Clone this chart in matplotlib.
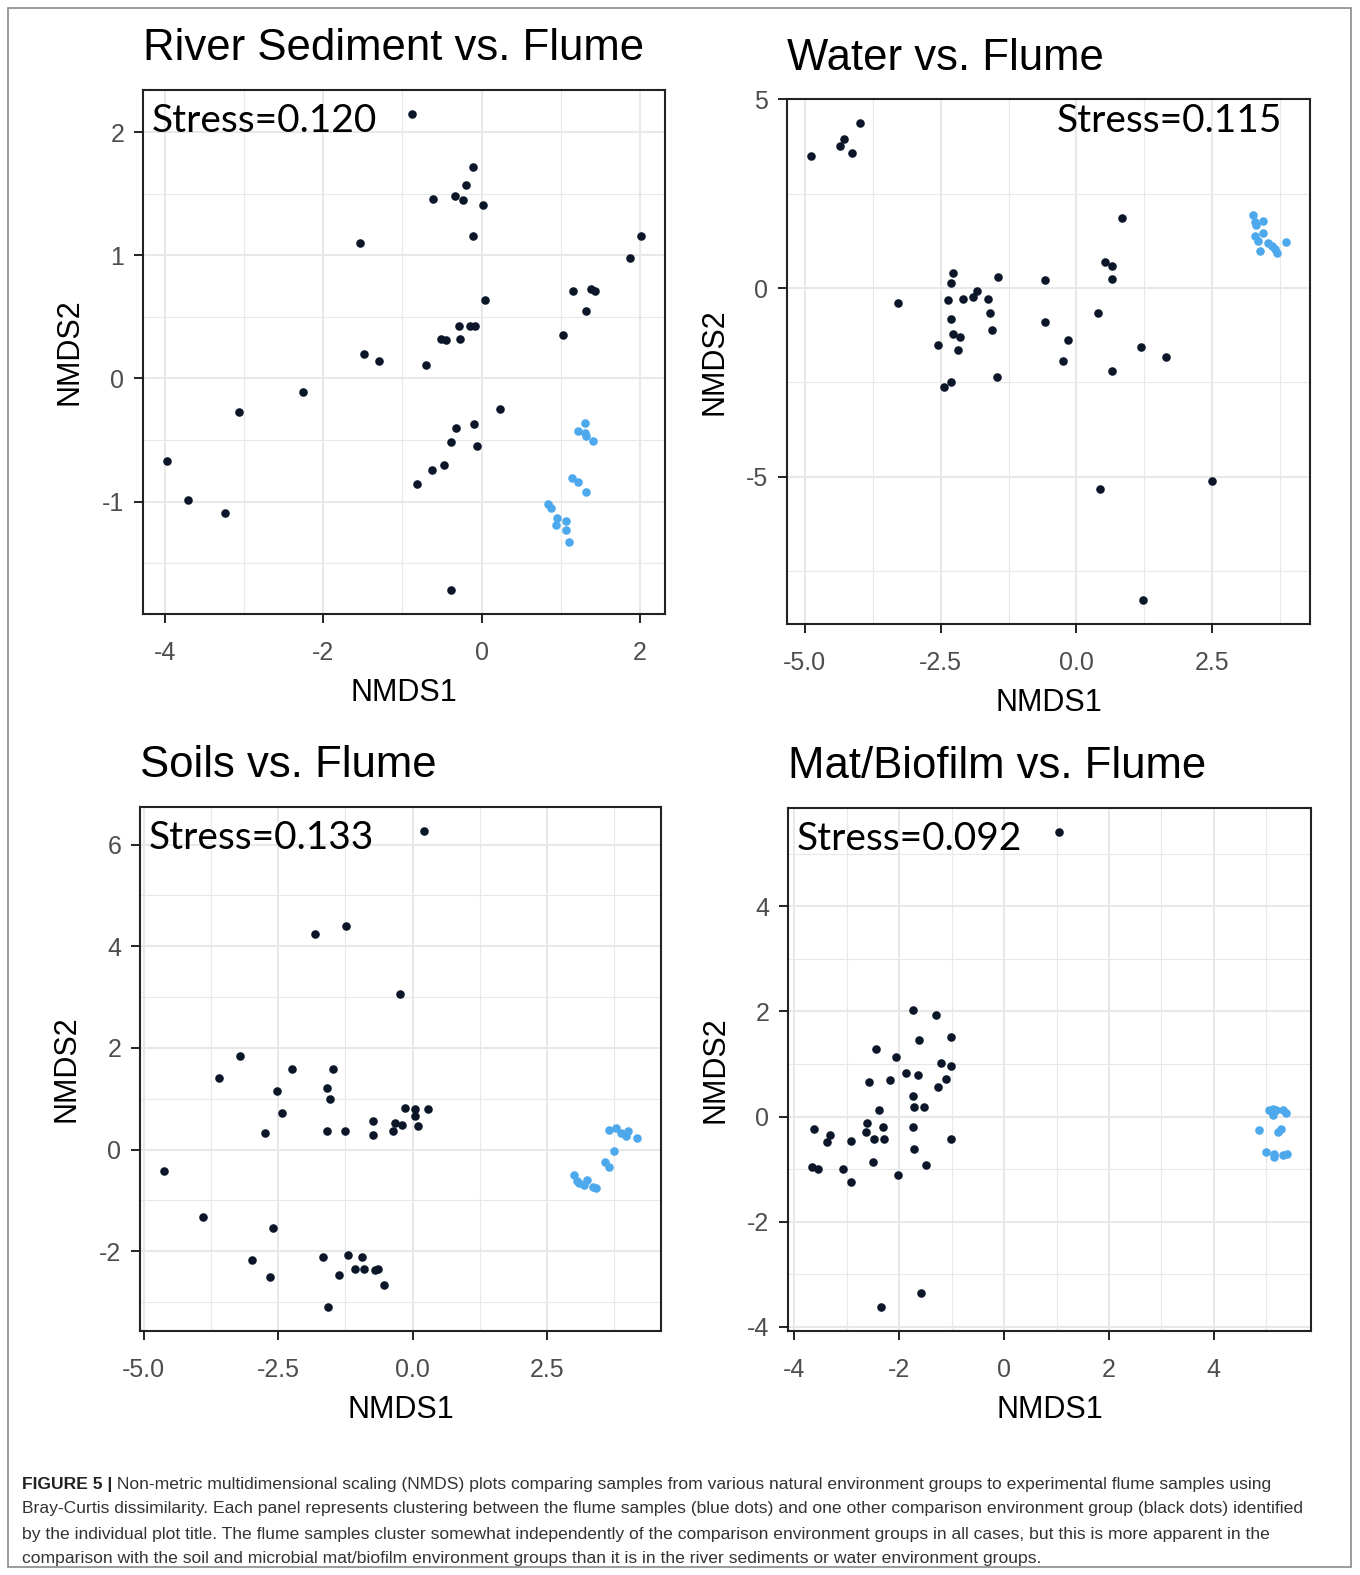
import matplotlib
matplotlib.use('Agg')
import matplotlib.pyplot as plt
from matplotlib.patches import Rectangle
from matplotlib.ticker import FixedLocator, FixedFormatter

plt.rcParams['axes.unicode_minus'] = False
plt.rcParams['font.family'] = ['Liberation Sans', 'DejaVu Sans']

# ---------------- data ----------------
river_env_x = [-0.88, -0.11, -0.20, -0.61, -0.34, -0.23, 0.02, -0.11, -1.54, 2.02, 1.88, 1.16, 1.39, 1.44,
               1.32, 1.03, 0.04, -0.29, -0.14, -0.08, -0.51, -0.45, -0.27, -1.48, -1.29, -0.70, -2.26, -3.06,
               0.23, -0.09, -0.32, -0.38, -0.06, -0.47, -0.63, -0.82, -3.98, -3.71, -3.24, -0.38]
river_env_y = [2.15, 1.72, 1.57, 1.46, 1.48, 1.45, 1.41, 1.16, 1.10, 1.16, 0.98, 0.71, 0.73, 0.71,
               0.55, 0.35, 0.64, 0.43, 0.43, 0.43, 0.32, 0.31, 0.32, 0.20, 0.14, 0.11, -0.11, -0.27,
               -0.25, -0.37, -0.40, -0.52, -0.55, -0.70, -0.74, -0.86, -0.67, -0.99, -1.09, -1.72]
river_flume_x = [1.31, 1.22, 1.31, 1.32, 1.41, 1.15, 1.22, 1.32, 0.84, 0.88, 0.95, 0.94, 1.07, 1.07, 1.10]
river_flume_y = [-0.36, -0.43, -0.44, -0.47, -0.51, -0.81, -0.84, -0.92, -1.02, -1.05, -1.13, -1.19, -1.16,
                 -1.23, -1.33]

water_env_x = [-4.89, -4.36, -4.27, -4.14, -3.99, 0.83, 0.53, 0.65, 0.65, -2.28, -2.31, -1.44, -0.58, -3.29,
               -2.37, -2.09, -1.90, -1.84, -1.63, -2.31, -1.59, -1.56, -2.28, -2.15, -2.55, -2.18, -0.58,
               0.39, -0.16, -0.24, 1.18, 1.64, 0.65, -1.47, -2.31, -2.43, 0.44, 2.50, 1.23]
water_env_y = [3.49, 3.76, 3.94, 3.58, 4.37, 1.84, 0.70, 0.57, 0.25, 0.39, 0.12, 0.30, 0.21, -0.41,
               -0.32, -0.28, -0.23, -0.07, -0.28, -0.81, -0.67, -1.12, -1.21, -1.30, -1.52, -1.65, -0.90,
               -0.67, -1.38, -1.92, -1.56, -1.83, -2.19, -2.36, -2.49, -2.63, -5.32, -5.11, -8.26]
water_flume_x = [3.25, 3.28, 3.44, 3.30, 3.44, 3.28, 3.34, 3.53, 3.59, 3.86, 3.66, 3.69, 3.38]
water_flume_y = [1.93, 1.75, 1.77, 1.66, 1.46, 1.38, 1.24, 1.20, 1.11, 1.23, 1.02, 0.93, 0.97]

soil_env_x = [0.22, -1.23, -1.81, -0.24, -3.21, -3.61, -2.25, -1.48, -1.60, -1.54, -2.53, -2.43, -2.75, -1.60,
              -1.26, -0.73, -0.73, -0.36, -0.33, -0.20, -0.15, 0.04, 0.04, 0.10, 0.29, -4.63, -3.89, -2.59,
              -2.99, -2.65, -1.67, -1.20, -0.94, -1.07, -0.91, -0.70, -0.64, -1.36, -0.54, -1.57]
soil_env_y = [6.27, 4.40, 4.24, 3.06, 1.84, 1.41, 1.58, 1.58, 1.21, 0.99, 1.15, 0.72, 0.32, 0.36,
              0.36, 0.56, 0.29, 0.36, 0.52, 0.49, 0.82, 0.79, 0.66, 0.46, 0.79, -0.43, -1.33, -1.55,
              -2.18, -2.51, -2.11, -2.08, -2.11, -2.34, -2.34, -2.37, -2.34, -2.47, -2.67, -3.10]
soil_flume_x = [3.66, 3.78, 3.88, 3.97, 4.00, 4.18, 3.75, 3.57, 3.66, 3.00, 3.09, 3.25, 3.19, 3.35, 3.41, 3.06]
soil_flume_y = [0.39, 0.42, 0.32, 0.26, 0.36, 0.23, -0.03, -0.24, -0.34, -0.50, -0.66, -0.60, -0.70, -0.73,
                -0.76, -0.62]

mat_env_x = [1.05, -1.74, -1.30, -1.62, -1.01, -2.45, -2.06, -1.21, -1.01, -1.88, -1.65, -2.17, -2.58, -1.11,
             -1.27, -1.74, -1.72, -1.53, -2.38, -2.61, -2.32, -2.64, -2.48, -2.29, -1.74, -1.72, -1.01, -3.62,
             -3.33, -3.37, -2.92, -3.67, -3.56, -3.08, -2.51, -2.93, -2.03, -1.49, -1.59, -2.35]
mat_env_y = [5.42, 2.03, 1.93, 1.45, 1.51, 1.29, 1.13, 1.01, 0.97, 0.82, 0.79, 0.69, 0.66, 0.72,
             0.56, 0.40, 0.19, 0.19, 0.12, -0.13, -0.20, -0.29, -0.42, -0.42, -0.20, -0.61, -0.42, -0.23,
             -0.36, -0.49, -0.46, -0.96, -0.99, -0.99, -0.87, -1.25, -1.12, -0.93, -3.35, -3.63]
mat_flume_x = [5.05, 5.13, 5.18, 5.31, 5.37, 5.12, 5.09, 4.87, 5.23, 5.28, 4.99, 5.15, 5.15, 5.31, 5.40]
mat_flume_y = [0.12, 0.15, 0.12, 0.12, 0.06, 0.03, 0.11, -0.26, -0.29, -0.23, -0.67, -0.71, -0.77, -0.74, -0.71]

titles = ["River Sediment vs. Flume", "Water vs. Flume", "Soils vs. Flume", "Mat/Biofilm vs. Flume"]
stress_labels = ["Stress=0.120", "Stress=0.115", "Stress=0.133", "Stress=0.092"]

river_xticks = [-4, -2, 0, 2]
river_yticks = [-1, 0, 1, 2]
water_xticks = [-5.0, -2.5, 0.0, 2.5]
water_yticks = [-5, 0, 5]
soil_xticks = [-5.0, -2.5, 0.0, 2.5]
soil_yticks = [-2, 0, 2, 4, 6]
mat_xticks = [-4, -2, 0, 2, 4]
mat_yticks = [-4, -2, 0, 2, 4]

caption_bold = "FIGURE 5 |"
caption_lines = [
    " Non-metric multidimensional scaling (NMDS) plots comparing samples from various natural environment groups to experimental flume samples using",
    "Bray-Curtis dissimilarity. Each panel represents clustering between the flume samples (blue dots) and one other comparison environment group (black dots) identified",
    "by the individual plot title. The flume samples cluster somewhat independently of the comparison environment groups in all cases, but this is more apparent in the",
    "comparison with the soil and microbial mat/biofilm environment groups than it is in the river sediments or water environment groups.",
]

# ---------------- layout ----------------
W, H = 1360, 1575
DPI = 100
fig = plt.figure(figsize=(W / DPI, H / DPI), dpi=DPI)
fig.patch.set_facecolor('white')

ENV_COLOR = '#0B1629'
FLUME_COLOR = '#4EA9EC'
GRID = '#E8E8E8'
TICKLAB = '#4D4D4D'


def fmt_ticks(ticks, decimals):
    if decimals:
        return ['%.1f' % t for t in ticks]
    return ['%d' % t for t in ticks]


def minor_between(ticks):
    step = ticks[1] - ticks[0]
    out = [t + step / 2 for t in ticks]
    out.insert(0, ticks[0] - step / 2)
    return out


def lims(a, b):
    lo, hi = min(min(a), min(b)), max(max(a), max(b))
    r = hi - lo
    return lo - 0.05 * r, hi + 0.05 * r


panels = [
    dict(box=(143, 90, 665, 614), ex=river_env_x, ey=river_env_y, fx=river_flume_x, fy=river_flume_y,
         xt=river_xticks, yt=river_yticks, xdec=False, ydec=False, stress_right=False),
    dict(box=(787, 99, 1310, 624), ex=water_env_x, ey=water_env_y, fx=water_flume_x, fy=water_flume_y,
         xt=water_xticks, yt=water_yticks, xdec=True, ydec=False, stress_right=True),
    dict(box=(140, 807, 661, 1331), ex=soil_env_x, ey=soil_env_y, fx=soil_flume_x, fy=soil_flume_y,
         xt=soil_xticks, yt=soil_yticks, xdec=True, ydec=False, stress_right=False),
    dict(box=(788, 808, 1311, 1331), ex=mat_env_x, ey=mat_env_y, fx=mat_flume_x, fy=mat_flume_y,
         xt=mat_xticks, yt=mat_yticks, xdec=False, ydec=False, stress_right=False),
]

for i, p in enumerate(panels):
    l, t, r, b = p['box']
    ax = fig.add_axes([l / W, 1 - b / H, (r - l) / W, (b - t) / H])
    ax.set_facecolor('white')
    ax.set_xlim(*lims(p['ex'], p['fx']))
    ax.set_ylim(*lims(p['ey'], p['fy']))
    ax.xaxis.set_major_locator(FixedLocator(p['xt']))
    ax.xaxis.set_major_formatter(FixedFormatter(fmt_ticks(p['xt'], p['xdec'])))
    ax.yaxis.set_major_locator(FixedLocator(p['yt']))
    ax.yaxis.set_major_formatter(FixedFormatter(fmt_ticks(p['yt'], p['ydec'])))
    ax.xaxis.set_minor_locator(FixedLocator(minor_between(p['xt'])))
    ax.yaxis.set_minor_locator(FixedLocator(minor_between(p['yt'])))
    ax.grid(which='major', color=GRID, lw=1.5, zorder=0)
    ax.grid(which='minor', color=GRID, lw=0.8, zorder=0)
    ax.set_axisbelow(True)
    ax.tick_params(which='major', direction='out', length=6.5, width=1.4, color='#222222',
                   labelsize=18, labelcolor=TICKLAB)
    ax.tick_params(axis='x', which='major', pad=13)
    ax.tick_params(axis='y', which='major', pad=7)
    ax.tick_params(which='minor', length=0)
    for s in ax.spines.values():
        s.set_color('#222222')
        s.set_linewidth(1.5)

    ax.scatter(p['ex'], p['ey'], s=38, color=ENV_COLOR, linewidths=0, zorder=3)
    ax.scatter(p['fx'], p['fy'], s=38, color=FLUME_COLOR, linewidths=0, zorder=3)

    ax.set_xlabel('NMDS1', fontsize=22, color='black')
    ax.set_ylabel('NMDS2', fontsize=22, color='black')
    ax.xaxis.set_label_coords(0.5, -79 / (b - t))
    ax.yaxis.set_label_coords(-73 / (r - l), 0.5)
    ax.xaxis.label.set_va('center')
    ax.yaxis.label.set_va('center')

    # panel title
    fig.text(l / W, 1 - (t - 41) / H, titles[i], fontsize=31.5, ha='left', va='center', color='black')

    # stress annotation
    if p['stress_right']:
        ax.text(1 - 28 / (r - l), 1 - 22 / (b - t), stress_labels[i], transform=ax.transAxes,
                ha='right', va='center', fontsize=28, family=['Lato', 'DejaVu Sans'], color='black')
    else:
        ax.text(9 / (r - l), 1 - 31 / (b - t), stress_labels[i], transform=ax.transAxes,
                ha='left', va='center', fontsize=28, family=['Lato', 'DejaVu Sans'], color='black')

# outer frame
fig.add_artist(Rectangle((8 / W, 1 - 1567 / H), (1351 - 8) / W, (1567 - 8) / H, transform=fig.transFigure,
                         fill=False, edgecolor='#8A8A8A', lw=1.2))

# caption: fit line widths to the reference text block width
renderer = fig.canvas.get_renderer()
target_w = 1303 - 22
probe = fig.text(0, 0, caption_lines[1], fontsize=12)
w0 = probe.get_window_extent(renderer).width
probe.remove()
cap_fs = 12 * target_w / w0

line_y = [1484, 1509, 1534, 1558]
bold = fig.text(22 / W, 1 - line_y[0] / H, caption_bold, fontsize=cap_fs, fontweight='bold',
                ha='left', va='center', color='#222222')
bw = bold.get_window_extent(renderer).width
fig.text((22 + bw) / W, 1 - line_y[0] / H, caption_lines[0], fontsize=cap_fs, ha='left', va='center',
         color='#333333')
for k in range(1, 4):
    fig.text(22 / W, 1 - line_y[k] / H, caption_lines[k], fontsize=cap_fs, ha='left', va='center',
             color='#333333')

fig.savefig('out.png', dpi=DPI, facecolor='white')
